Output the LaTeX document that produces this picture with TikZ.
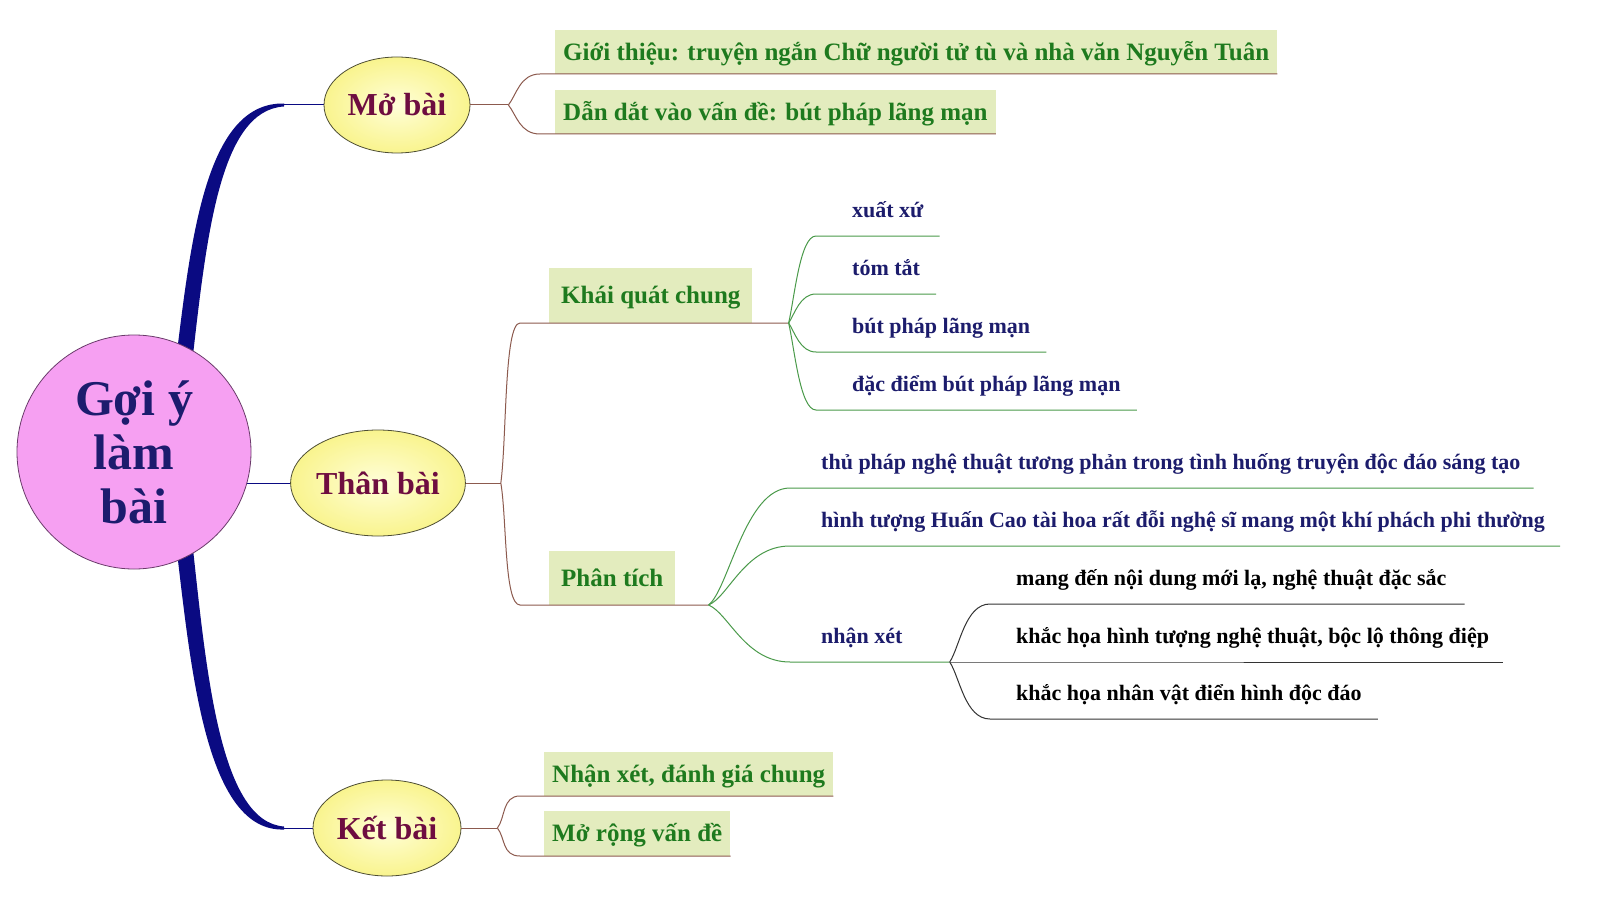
\documentclass[tikz,border=0pt]{standalone}
\usepackage{fontspec}
\setmainfont{Liberation Serif}
\usetikzlibrary{shapes.geometric,backgrounds}
\definecolor{rootfill}{HTML}{F6A0F2}
\definecolor{rootline}{HTML}{6A3A6A}
\definecolor{rootcol}{HTML}{1C1C6E}
\definecolor{navyb}{HTML}{0A0A82}
\definecolor{hubin}{HTML}{FFFED8}
\definecolor{hubout}{HTML}{F9F48E}
\definecolor{hubline}{HTML}{4D4D33}
\definecolor{hubtext}{HTML}{6E0D40}
\definecolor{boxfill}{HTML}{E3ECBE}
\definecolor{gtext}{HTML}{1E7A1E}
\definecolor{ntext}{HTML}{1C1C6C}
\definecolor{brnline}{HTML}{8C5A4E}
\definecolor{grnline}{HTML}{4A9A4A}
\definecolor{blkline}{HTML}{333333}
\begin{document}
\begin{tikzpicture}[x=1pt,y=-1pt,
  rootnode/.style={circle, minimum size=234, inner sep=0, draw=rootline, line width=0.8, fill=rootfill, text=rootcol, align=center, font=\bfseries\fontsize{50}{54}\selectfont},
  hub/.style={ellipse, inner sep=0, draw=hubline, line width=0.8, inner color=hubin, outer color=hubout, text=hubtext, font=\bfseries\fontsize{32}{38}\selectfont},
  gbox/.style={fill=boxfill, inner xsep=8, inner ysep=0, text=gtext, font=\bfseries\fontsize{25}{30}\selectfont, text height=20, text depth=3, anchor=south west},
  nitem/.style={inner sep=0, text=ntext, font=\bfseries\fontsize{22}{26}\selectfont, text height=16, text depth=18, anchor=south west},
  bitem/.style={nitem, text=black},
  brn/.style={draw=brnline, line width=1},
  grn/.style={draw=grnline, line width=1},
  blk/.style={draw=blkline, line width=1},
  thin/.style={draw=navyb, line width=1}]
\useasboundingbox (0,0) rectangle (1600,912);

% central and hubs
\node[rootnode] (root) at (134,452) {Gợi ý\\làm\\bài};
\node[hub, minimum width=146, minimum height=96] (mo) at (397,105) {Mở bài};
\node[hub, minimum width=174, minimum height=106] (than) at (378,483) {Thân bài};
\node[hub, minimum width=148, minimum height=96] (ket) at (387,828) {Kết bài};

% main branches
\begin{scope}[on background layer]
  \fill[white] (0,0) rectangle (1600,912);
  \coordinate (ua) at (284,105);
  \coordinate (la) at (284,828);
  \fill[navyb] (177,352) .. controls (192,230) and (208,102) .. (284,103.5)
     -- (284,106.5) .. controls (221,110) and (207,232) .. (193,355) -- cycle;
  \fill[navyb] (177,552) .. controls (192,680) and (208,832) .. (284,829.5)
     -- (284,826.5) .. controls (221,822) and (207,678) .. (193,549) -- cycle;
  \draw[thin] (ua) -- (mo.west);
  \draw[thin] (la) -- (ket.west);
  \draw[thin] (than.west) -- (than.west -| root.center);
\end{scope}

% Mo bai
\node[gbox, minimum height=44] (g1) at (555,74) {Giới thiệu: truyện ngắn Chữ người tử tù và nhà văn Nguyễn Tuân};
\node[gbox, minimum height=44] (g2) at (555,134) {Dẫn dắt vào vấn đề: bút pháp lãng mạn};
\draw[brn] (mo.east) -- ++(38,0) coordinate (ms);
\draw[brn] (ms) .. controls +(8,-10) and +(-20,0) .. ([xshift=-15]g1.south west) -- (g1.south east);
\draw[brn] (ms) .. controls +(8,10) and +(-20,0) .. ([xshift=-15]g2.south west) -- (g2.south east);

% Than bai
\node[gbox, minimum height=55, inner xsep=12] (kq) at (549,323) {Khái quát chung};
\node[gbox, minimum height=54, inner xsep=12] (pt) at (549,605) {Phân tích};
\draw[brn] (than.east) -- ++(35,0) coordinate (ts);
\coordinate (ks) at ([xshift=36]kq.south east);
\coordinate (ps) at ([xshift=33]pt.south east);
\draw[brn] (ts) .. controls +(6,-45) and +(-16,0) .. ([xshift=-29]kq.south west) -- (ks);
\draw[brn] (ts) .. controls +(6,35) and +(-16,0) .. ([xshift=-29]pt.south west) -- (ps);

% Khai quat chung items
\node[nitem] (a1) at (816,236) {\hspace*{36pt}xuất xứ\hspace*{16pt}};
\node[nitem] (a2) at (816,294) {\hspace*{36pt}tóm tắt\hspace*{16pt}};
\node[nitem] (a3) at (816,352) {\hspace*{36pt}bút pháp lãng mạn\hspace*{16pt}};
\node[nitem] (a4) at (816,410) {\hspace*{36pt}đặc điểm bút pháp lãng mạn\hspace*{16pt}};
\draw[grn] (ks) .. controls +(6,-26) and +(-16,0) .. (a1.south west) -- (a1.south east);
\draw[grn] (ks) .. controls +(6,-9) and +(-16,0) .. (a2.south west) -- (a2.south east);
\draw[grn] (ks) .. controls +(6,9) and +(-16,0) .. (a3.south west) -- (a3.south east);
\draw[grn] (ks) .. controls +(6,26) and +(-16,0) .. (a4.south west) -- (a4.south east);

% Phan tich items
\node[nitem] (b1) at (790,488) {\hspace*{31pt}thủ pháp nghệ thuật tương phản trong tình huống truyện độc đáo sáng tạo\hspace*{13pt}};
\node[nitem] (b2) at (790,546) {\hspace*{31pt}hình tượng Huấn Cao tài hoa rất đỗi nghệ sĩ mang một khí phách phi thường\hspace*{15pt}};
\node[nitem] (nx) at (790,662) {\hspace*{31pt}nhận xét\hspace*{47pt}};
\draw[grn] (ps) .. controls +(20,-15) and +(-45,0) .. (b1.south west) -- (b1.south east);
\draw[grn] (ps) .. controls +(20,-8) and +(-45,0) .. (b2.south west) -- (b2.south east);
\draw[grn] (ps) .. controls +(20,8) and +(-45,0) .. (nx.south west) -- (nx.south east);
\coordinate (nxs) at (nx.south east);

% nhan xet items
\node[bitem] (n1) at (990,604) {\hspace*{26pt}mang đến nội dung mới lạ, nghệ thuật đặc sắc\hspace*{18pt}};
\node[bitem] (n2) at (990,662) {\hspace*{26pt}khắc họa hình tượng nghệ thuật, bộc lộ thông điệp\hspace*{14pt}};
\node[bitem] (n3) at (990,719) {\hspace*{26pt}khắc họa nhân vật điển hình độc đáo\hspace*{16pt}};
\draw[blk] (nxs) .. controls +(10,-15) and +(-25,0) .. (n1.south west) -- (n1.south east);
\draw[blk] (nxs) -- (n2.south west) -- (n2.south east);
\draw[blk] (nxs) .. controls +(10,15) and +(-25,0) .. (n3.south west) -- (n3.south east);

% Ket bai
\node[gbox, minimum height=44] (k1) at (544,796) {Nhận xét, đánh giá chung};
\node[gbox, minimum height=45] (k2) at (544,856) {Mở rộng vấn đề};
\draw[brn] (ket.east) -- ++(36,0) coordinate (kts);
\draw[brn] (kts) .. controls +(8,-10) and +(-18,0) .. ([xshift=-24]k1.south west) -- (k1.south east);
\draw[brn] (kts) .. controls +(8,10) and +(-18,0) .. ([xshift=-24]k2.south west) -- (k2.south east);
\end{tikzpicture}
\end{document}
